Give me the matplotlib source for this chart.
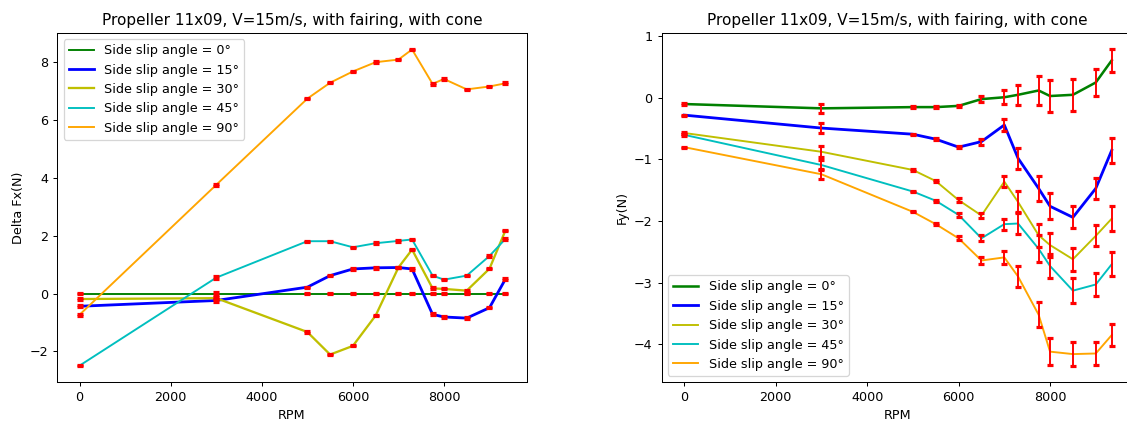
import matplotlib
matplotlib.use("Agg")
import matplotlib.pyplot as plt

# RPM sweep shared by every run
rpm = [0, 3000, 5000, 5500, 6000, 6500, 7000, 7300, 7750, 8000, 8500, 9000, 9350]

angles = ["0", "15", "30", "45", "90"]
colors = ["g", "b", "y", "c", "orange"]

# Delta Fx (N), relative to the 0 deg run
dfx_0 = [0, 0, 0, 0, 0, 0, 0, 0, 0, 0, 0, 0, 0]
dfx_15 = [-0.44, -0.24, 0.22, 0.62, 0.85, 0.89, 0.90, 0.85, -0.72, -0.81, -0.85, -0.49, 0.50]
dfx_30 = [-0.19, -0.16, -1.33, -2.11, -1.81, -0.76, 0.90, 1.52, 0.18, 0.16, 0.10, 0.86, 2.18]
dfx_45 = [-2.49, 0.55, 1.81, 1.81, 1.60, 1.74, 1.82, 1.87, 0.62, 0.48, 0.62, 1.30, 1.89]
dfx_90 = [-0.73, 3.76, 6.74, 7.29, 7.68, 8.00, 8.09, 8.44, 7.25, 7.42, 7.06, 7.16, 7.27]
dfx_err = [0.03, 0.04, 0.02, 0.02, 0.02, 0.03, 0.03, 0.03, 0.03, 0.02, 0.03, 0.02, 0.03]

# Side force Fy (N) and its spread
fy_0 = [-0.10, -0.17, -0.15, -0.15, -0.13, -0.02, 0.01, 0.05, 0.12, 0.03, 0.05, 0.25, 0.61]
fy_15 = [-0.28, -0.49, -0.59, -0.67, -0.80, -0.71, -0.44, -0.98, -1.47, -1.76, -1.94, -1.47, -0.85]
fy_30 = [-0.57, -0.875, -1.17, -1.35, -1.66, -1.91, -1.36, -1.69, -2.23, -2.39, -2.62, -2.24, -1.96]
fy_45 = [-0.60, -1.09, -1.52, -1.67, -1.90, -2.28, -2.05, -2.04, -2.45, -2.73, -3.13, -3.03, -2.70]
fy_90 = [-0.80, -1.24, -1.85, -2.05, -2.28, -2.64, -2.59, -2.90, -3.52, -4.12, -4.16, -4.15, -3.85]

fy_err_0 = [0.01, 0.07, 0.01, 0.02, 0.02, 0.05, 0.11, 0.16, 0.24, 0.26, 0.26, 0.22, 0.19]
fy_err_15 = [0.01, 0.08, 0.01, 0.02, 0.02, 0.05, 0.10, 0.17, 0.20, 0.21, 0.18, 0.17, 0.20]
fy_err_30 = [0.02, 0.09, 0.01, 0.02, 0.03, 0.04, 0.09, 0.17, 0.19, 0.19, 0.19, 0.17, 0.20]
fy_err_45 = [0.02, 0.08, 0.01, 0.02, 0.03, 0.05, 0.09, 0.17, 0.22, 0.20, 0.20, 0.18, 0.19]
fy_err_90 = [0.01, 0.08, 0.01, 0.02, 0.03, 0.05, 0.11, 0.17, 0.20, 0.22, 0.20, 0.18, 0.18]

dfx = [dfx_0, dfx_15, dfx_30, dfx_45, dfx_90]
fy = [fy_0, fy_15, fy_30, fy_45, fy_90]
fy_err = [fy_err_0, fy_err_15, fy_err_30, fy_err_45, fy_err_90]

title = "Propeller 11x09, V=15m/s, with fairing, with cone"

dpi = 91.5
fig = plt.figure(figsize=(1127 / dpi, 421 / dpi), dpi=dpi)
ax1 = fig.add_axes([0.0508, 0.0919, 0.4165, 0.8304])
ax2 = fig.add_axes([0.5870, 0.0919, 0.4184, 0.8304])

# Left: Delta Fx
lw_left = [1.5, 2.2, 1.8, 1.5, 1.5]
for a, c, vals, lw in zip(angles, colors, dfx, lw_left):
    ax1.plot(rpm, vals, color=c, lw=lw, label="Side slip angle = " + a + "°")
for vals in dfx:
    ax1.errorbar(rpm, vals, yerr=dfx_err, fmt="none", ecolor="red",
                 elinewidth=1.5, capsize=2, capthick=2.5, zorder=3)
ax1.set_title(title)
ax1.set_xlabel("RPM")
ax1.set_ylabel("Delta Fx(N)")
ax1.set_xlim(-492, 9816)
ax1.legend(loc="upper left")

# Right: Fy with error bars
lw_right = [2, 2.2, 1.5, 1.5, 1.5]
for a, c, vals, lw in zip(angles, colors, fy, lw_right):
    ax2.plot(rpm, vals, color=c, lw=lw, label="Side slip angle = " + a + "°")
for vals, err in zip(fy, fy_err):
    ax2.errorbar(rpm, vals, yerr=err, fmt="none", ecolor="red",
                 elinewidth=1.5, capsize=2, capthick=2.5, zorder=3)
ax2.set_title(title)
ax2.set_xlabel("RPM")
ax2.set_ylabel("Fy(N)")
ax2.set_xlim(-496, 9816)
ax2.legend(loc="lower left")

fig.savefig("out.png", dpi=dpi)
